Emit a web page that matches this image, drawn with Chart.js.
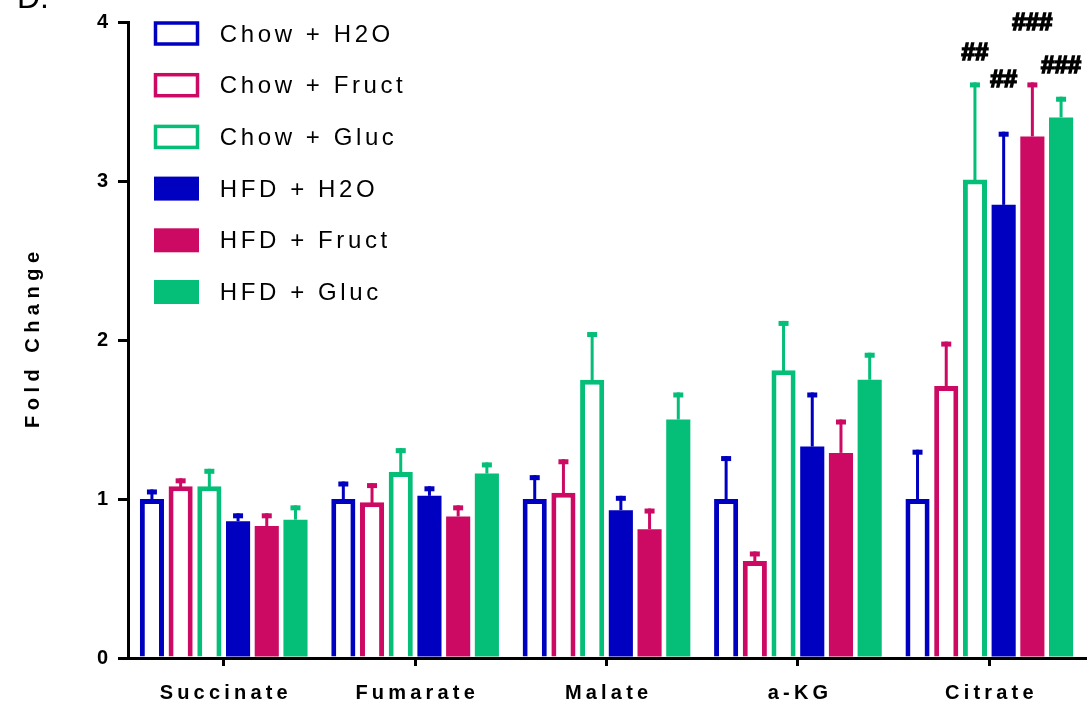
<!DOCTYPE html>
<html>
<head>
<meta charset="utf-8">
<script src="https://cdn.jsdelivr.net/npm/chart.js@4"></script>
<style>
    html, body { margin: 0; padding: 0; background: #fff; }
    #wrap { width: 1090px; height: 706px; }
</style>
</head>
<body>
<div id="wrap"><canvas id="chartFold"></canvas></div>
<script>
// datos
const categorias = ['Succinate', 'Fumarate', 'Malate', 'a-KG', 'Citrate'];
const series = ['Chow + H2O', 'Chow + Fruct', 'Chow + Gluc', 'HFD + H2O', 'HFD + Fruct', 'HFD + Gluc'];

const chowH2O = [1.00, 1.00, 1.00, 1.00, 1.00];
const chowFruct = [1.08, 0.98, 1.04, 0.61, 1.71];
const chowGluc = [1.08, 1.17, 1.75, 1.81, 3.01];
const hfdH2O = [0.86, 1.02, 0.93, 1.33, 2.85];
const hfdFruct = [0.83, 0.89, 0.81, 1.29, 3.28];
const hfdGluc = [0.87, 1.16, 1.50, 1.75, 3.40];

// desviacion (solo hacia arriba)
const sdChowH2O = [0.06, 0.11, 0.15, 0.27, 0.31];
const sdChowFruct = [0.05, 0.12, 0.21, 0.06, 0.28];
const sdChowGluc = [0.11, 0.15, 0.30, 0.31, 0.61];
const sdHfdH2O = [0.05, 0.06, 0.09, 0.34, 0.46];
const sdHfdFruct = [0.08, 0.07, 0.13, 0.21, 0.34];
const sdHfdGluc = [0.09, 0.07, 0.17, 0.17, 0.13];

// marcas de significancia en Citrate
const marcasTexto = ['', '', '##', '##', '###', '###'];
const marcasY = [0, 0, 3.80, 3.63, 3.99, 3.72];

const ticksY = [0, 1, 2, 3, 4];

const azul = '#0000C0';
const rosa = '#CC0A64';
const verde = '#05BE78';
const FUENTE = 'Arial, "Liberation Sans", sans-serif';

const valores = [chowH2O, chowFruct, chowGluc, hfdH2O, hfdFruct, hfdGluc];
const errores = [sdChowH2O, sdChowFruct, sdChowGluc, sdHfdH2O, sdHfdFruct, sdHfdGluc];
const colores = [azul, rosa, verde, azul, rosa, verde];
const huecos = [true, true, true, false, false, false];

let datasets = series.map((nombre, i) => ({
    label: nombre,
    data: valores[i],
    sd: errores[i],
    hueco: huecos[i],
    backgroundColor: huecos[i] ? '#ffffff' : colores[i],
    borderColor: colores[i],
    borderWidth: huecos[i] ? 5 : 0,
    borderSkipped: 'start',
    categoryPercentage: 0.9,
    barPercentage: 0.84
}));

function textoEspaciado(ctx, texto, x, y, espacio) {
    ctx.letterSpacing = espacio + 'px';
    ctx.fillText(texto, x + espacio / 2, y);
    ctx.letterSpacing = '0px';
}

// barras de error, textos y leyenda
const extras = {
    id: 'extras',
    afterDatasetsDraw(chart) {
        let ctx = chart.ctx;
        let y = chart.scales.y;
        ctx.save();
        chart.data.datasets.forEach((ds, i) => {
            let meta = chart.getDatasetMeta(i);
            meta.data.forEach((bar, j) => {
                let top = y.getPixelForValue(ds.data[j] + ds.sd[j]);
                ctx.fillStyle = ds.borderColor;
                ctx.fillRect(bar.x - 1.5, top, 3, bar.y - top + (ds.hueco ? 2 : 0));
                ctx.fillRect(bar.x - 5, top, 10, 5);
            });
            let ultimo = meta.data[meta.data.length - 1];
            if (marcasTexto[i]) {
                ctx.fillStyle = '#000';
                ctx.strokeStyle = '#000';
                ctx.lineWidth = 1.6;
                ctx.font = 'bold 24px ' + FUENTE;
                ctx.textAlign = 'center';
                ctx.textBaseline = 'middle';
                let py = y.getPixelForValue(marcasY[i]);
                ctx.fillText(marcasTexto[i], ultimo.x, py);
                ctx.strokeText(marcasTexto[i], ultimo.x, py);
            }
        });
        ctx.restore();
    },
    afterDraw(chart) {
        let ctx = chart.ctx;
        let area = chart.chartArea;
        let x = chart.scales.x;
        ctx.save();
        ctx.fillStyle = '#000';
        // etiquetas del eje x
        ctx.font = 'bold 20px ' + FUENTE;
        ctx.textAlign = 'center';
        ctx.textBaseline = 'alphabetic';
        chart.data.labels.forEach((lab, i) => {
            textoEspaciado(ctx, lab, x.getPixelForValue(i), 699, 4.2);
        });
        // titulo eje y
        ctx.save();
        ctx.translate(33, (area.top + area.bottom) / 2);
        ctx.rotate(-Math.PI / 2);
        ctx.font = 'bold 20px ' + FUENTE;
        ctx.textBaseline = 'middle';
        textoEspaciado(ctx, 'Fold Change', 0, 0, 5.5);
        ctx.restore();
        // letra del panel
        ctx.font = '32px ' + FUENTE;
        ctx.textAlign = 'left';
        ctx.textBaseline = 'alphabetic';
        ctx.fillText('D.', 17, 8);
        // leyenda
        ctx.font = '24px ' + FUENTE;
        ctx.textBaseline = 'middle';
        chart.data.datasets.forEach((ds, i) => {
            let cy = 33 + i * 51.7;
            if (ds.hueco) {
                ctx.strokeStyle = ds.borderColor;
                ctx.lineWidth = 3.5;
                ctx.strokeRect(155.5, cy - 10, 42, 21);
            } else {
                ctx.fillStyle = ds.borderColor;
                ctx.fillRect(154, cy - 11.5, 45, 24);
            }
            ctx.fillStyle = '#000';
            ctx.textAlign = 'left';
            textoEspaciado(ctx, ds.label, 218, cy + 2, 3.6);
        });
        ctx.restore();
    }
};

let ctx = document.getElementById('chartFold').getContext('2d');
let chartFold = new Chart(ctx, {
    type: 'bar',
    data: {
        labels: categorias,
        datasets: datasets
    },
    options: {
        responsive: true,
        maintainAspectRatio: false,
        animation: false,
        layout: { padding: { top: 18, right: 5, left: 0, bottom: 0 } },
        plugins: {
            legend: { display: false },
            tooltip: { enabled: false }
        },
        scales: {
            x: {
                offset: true,
                grid: { display: true, drawOnChartArea: false, offset: false, tickLength: 8, lineWidth: 3, color: '#000' },
                border: { display: true, color: '#000', width: 3 },
                ticks: { display: false },
                afterFit: s => { s.height = 48; }
            },
            y: {
                min: 0,
                max: 4,
                afterBuildTicks: s => { s.ticks = ticksY.map(v => ({ value: v })); },
                grid: { display: true, drawOnChartArea: false, tickLength: 10, lineWidth: 3, color: '#000' },
                border: { display: true, color: '#000', width: 3 },
                ticks: {
                    padding: 10,
                    color: '#000',
                    font: { family: FUENTE, size: 20, weight: 'bold' }
                },
                afterFit: s => { s.width = 128; }
            }
        }
    },
    plugins: [extras]
});
</script>
</body>
</html>
